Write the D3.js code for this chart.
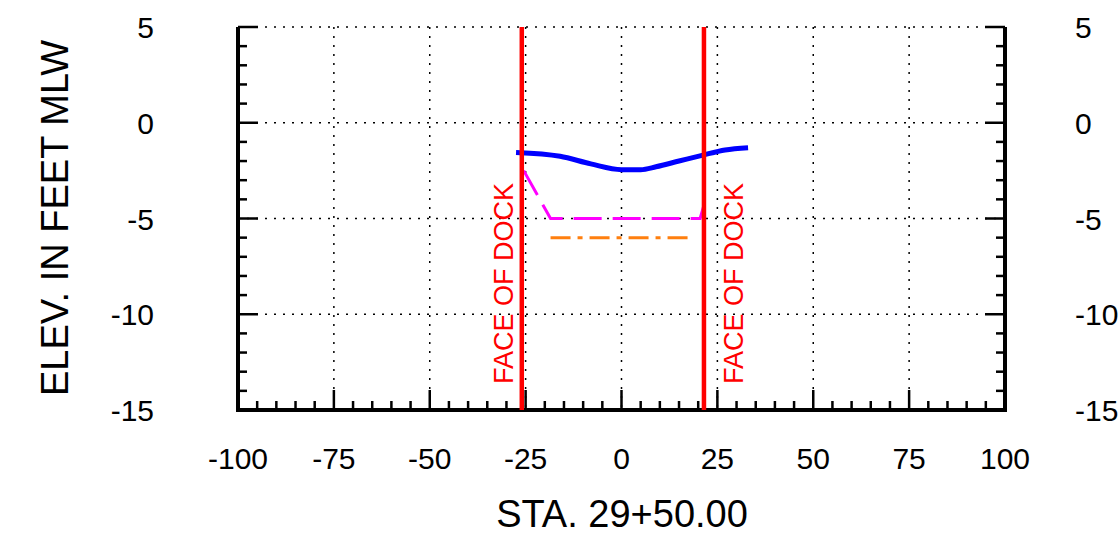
<!DOCTYPE html>
<html><head><meta charset="utf-8">
<script src="https://cdn.jsdelivr.net/npm/d3@7"></script>
<style>body{margin:0;background:#fff}svg{display:block}text{font-family:"Liberation Sans",Arial,sans-serif}</style>
</head><body><svg id="c" width="1120" height="545"></svg>
<script>
const xTicks = [-100,-75,-50,-25,0,25,50,75,100];
const yTicks = [5,0,-5,-10,-15];
const surveyX = [-27.5,-16,-8,0,5,9,15,21,27,33];
const surveyY = [-1.55,-1.75,-2.15,-2.45,-2.45,-2.3,-2.0,-1.7,-1.42,-1.3];
const designX = [-25.5,-18.5,20.5,21.5];
const designY = [-2.5,-5,-5,-4.3];
const overX = [-18.5,18.9];
const overY = [-6,-6];
const dockX = [-26,21.5];
const dockLabel = "FACE OF DOCK";
const xTitle = "STA. 29+50.00";
const yTitle = "ELEV. IN FEET MLW";

const svg = d3.select("#c");
const x = d3.scaleLinear().domain([-100,100]).range([238,1005]);
const y = d3.scaleLinear().domain([-15,5]).range([410,27]);

// grid
const g = svg.append("g");
g.selectAll(".gx").data(xTicks.slice(1,-1)).enter().append("line")
  .attr("x1",d=>x(d)).attr("x2",d=>x(d)).attr("y1",y(5)).attr("y2",y(-15))
  .attr("stroke","#000").attr("stroke-width",1.5).attr("stroke-dasharray","2,7");
g.selectAll(".gy").data(yTicks.slice(0,-1)).enter().append("line")
  .attr("x1",x(-100)).attr("x2",x(100)).attr("y1",d=>y(d)).attr("y2",d=>y(d))
  .attr("stroke","#000").attr("stroke-width",1.5).attr("stroke-dasharray","2,7");

// minor ticks
const xMinor = d3.range(-100,101,5);
const yMinor = d3.range(-15,6,1);
const tk = svg.append("g").attr("stroke","#000").attr("stroke-width",2.5);
tk.selectAll(".mx").data(xMinor).enter().append("line")
  .attr("x1",d=>x(d)).attr("x2",d=>x(d)).attr("y1",y(-15))
  .attr("y2",d=>y(-15)-(d%25===0?20:9));
tk.selectAll(".myl").data(yMinor).enter().append("line")
  .attr("y1",d=>y(d)).attr("y2",d=>y(d)).attr("x1",x(-100))
  .attr("x2",d=>x(-100)+(d%5===0?20:9));
tk.selectAll(".myr").data(yMinor).enter().append("line")
  .attr("y1",d=>y(d)).attr("y2",d=>y(d)).attr("x1",x(100))
  .attr("x2",d=>x(100)-(d%5===0?20:9));

// axis frame
svg.append("path")
  .attr("d",`M${x(-100)},${y(5)}V${y(-15)}H${x(100)}V${y(5)}`)
  .attr("fill","none").attr("stroke","#000").attr("stroke-width",4).attr("stroke-linejoin","miter");

// tick labels
svg.selectAll(".xl").data(xTicks).enter().append("text")
  .attr("x",d=>x(d)).attr("y",469).attr("text-anchor","middle")
  .attr("font-size",30).text(d=>d);
svg.selectAll(".yl").data(yTicks).enter().append("text")
  .attr("x",154).attr("y",d=>y(d)+11).attr("text-anchor","end")
  .attr("font-size",30).text(d=>d);
svg.selectAll(".yr").data(yTicks).enter().append("text")
  .attr("x",1075).attr("y",d=>y(d)+11).attr("text-anchor","start")
  .attr("font-size",30).text(d=>d);

// titles
svg.append("text").attr("x",622).attr("y",527).attr("text-anchor","middle")
  .attr("font-size",38).text(xTitle);
svg.append("text").attr("transform",`translate(68,218) rotate(-90)`)
  .attr("text-anchor","middle").attr("font-size",38).text(yTitle);

// data lines
const line = d3.line().x(d=>x(d[0])).y(d=>y(d[1]));
svg.append("path").datum(overX.map((v,i)=>[v,overY[i]])).attr("d",line)
  .attr("fill","none").attr("stroke","#ff7f0e").attr("stroke-width",3)
  .attr("stroke-dasharray","20,7,5,7");
svg.append("path").datum(designX.map((v,i)=>[v,designY[i]])).attr("d",line)
  .attr("fill","none").attr("stroke","#ff00ff").attr("stroke-width",3)
  .attr("stroke-dasharray","28,11");
svg.append("path").datum(surveyX.map((v,i)=>[v,surveyY[i]])).attr("d",line.curve(d3.curveMonotoneX))
  .attr("fill","none").attr("stroke","#0000ff").attr("stroke-width",5);

// dock lines
svg.selectAll(".dk").data(dockX).enter().append("line")
  .attr("x1",d=>x(d)).attr("x2",d=>x(d)).attr("y1",y(5)).attr("y2",y(-15))
  .attr("stroke","#ff0000").attr("stroke-width",4.5);
svg.selectAll(".dt").data(dockX).enter().append("text")
  .attr("transform",(d,i)=>`translate(${x(d)+(i===0?-9:39)},384) rotate(-90)`)
  .attr("fill","#ff0000").attr("font-size",27).text(dockLabel);
</script></body></html>
